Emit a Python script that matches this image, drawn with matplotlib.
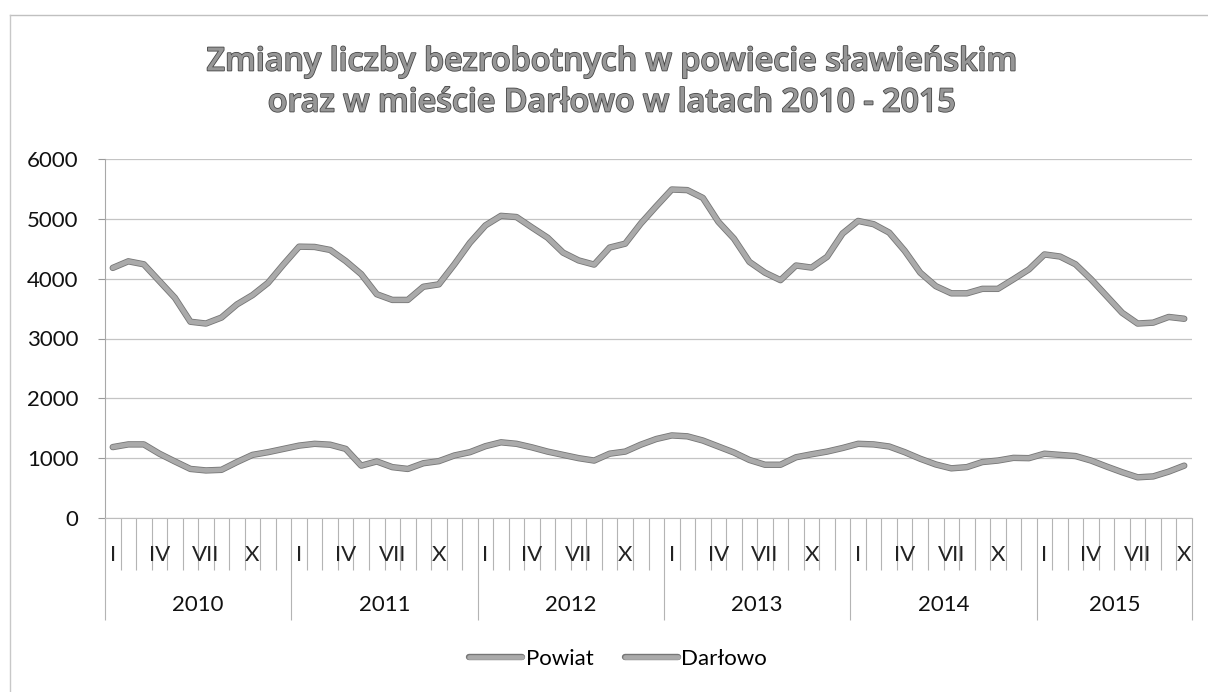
import matplotlib
matplotlib.use("Agg")
import matplotlib.pyplot as plt
import matplotlib.patheffects as pe
from matplotlib.lines import Line2D

plt.rcParams['font.family'] = ['Lato', 'DejaVu Sans']

# Monthly counts of registered unemployed, Jan 2010 - Oct 2015
years = ["2010", "2011", "2012", "2013", "2014", "2015"]
months_per_year = [12, 12, 12, 12, 12, 10]
month_names = ["I", "II", "III", "IV", "V", "VI", "VII", "VIII", "IX", "X", "XI", "XII"]
shown_months = ["I", "IV", "VII", "X"]

powiat = [
    4180, 4290, 4240, 3960, 3680, 3280, 3250, 3350, 3570, 3725, 3930, 4240,
    4535, 4530, 4480, 4295, 4075, 3740, 3645, 3645, 3865, 3905, 4240, 4600,
    4890, 5050, 5030, 4855, 4685, 4435, 4305, 4235, 4520, 4585, 4920, 5210,
    5490, 5480, 5350, 4950, 4670, 4280, 4100, 3975, 4220, 4185, 4365, 4755,
    4965, 4910, 4770, 4465, 4100, 3875, 3755, 3755, 3830, 3830, 3990, 4155,
    4405, 4370, 4240, 3990, 3710, 3430, 3250, 3265, 3360, 3330,
]
darlowo = [
    1185, 1230, 1230, 1075, 945, 820, 795, 805, 935, 1055, 1100, 1155,
    1210, 1240, 1225, 1155, 875, 945, 850, 820, 915, 950, 1045, 1100,
    1200, 1265, 1240, 1180, 1110, 1055, 1000, 960, 1075, 1110, 1225, 1320,
    1380, 1365, 1295, 1195, 1095, 970, 890, 890, 1015, 1065, 1110, 1170,
    1240, 1230, 1195, 1100, 990, 895, 830, 850, 935, 960, 1005, 1000,
    1075, 1055, 1035, 960, 860, 765, 680, 695, 775, 875,
]
series_names = ["Powiat", "Darłowo"]

W, H = 1208, 692
fig = plt.figure(figsize=(W / 100, H / 100), dpi=100)
fig.patch.set_facecolor("white")

ax = fig.add_axes([105 / W, 1 - 518 / H, (1192 - 105) / W, (518 - 159) / H])

n = len(powiat)
x = list(range(n))

line_fx = [pe.Stroke(linewidth=4.6, foreground="#767676"), pe.Normal()]
for vals, name in zip([powiat, darlowo], series_names):
    ax.plot(x, vals, color="#aaaaaa", lw=3.4, solid_capstyle="round",
            solid_joinstyle="round", path_effects=line_fx, label=name, zorder=3)

ax.set_xlim(-0.5, n - 0.5)
ax.set_ylim(0, 6000)
ax.set_yticks(range(0, 6001, 1000))
ax.yaxis.grid(True, color="#c4c4c4", lw=0.9)
ax.set_axisbelow(True)
ax.tick_params(axis="y", length=5, width=0.8, color="#9a9a9a", pad=14,
               labelsize=16, labelcolor="#111111")

for s in ["top", "right"]:
    ax.spines[s].set_visible(False)
ax.spines["left"].set_color("#a8a8a8")
ax.spines["bottom"].set_color("#bdbdbd")

# Category axis: month separators (minor) and year separators (major)
year_edges = [-0.5]
for m in months_per_year:
    year_edges.append(year_edges[-1] + m)
ax.set_xticks(year_edges)
ax.set_xticklabels([""] * len(year_edges))
ax.set_xticks([k - 0.5 for k in range(n + 1)], minor=True)
ax.tick_params(axis="x", which="major", length=73.5, width=0.8, color="#b4b4b4", direction="out")
ax.tick_params(axis="x", which="minor", length=37.5, width=0.8, color="#b4b4b4", direction="out")

tx = ax.get_xaxis_transform()
ax_h = 518 - 159
y_month = -(555 - 518) / ax_h
y_year = -(605 - 518) / ax_h
pos = 0
for yr, m in zip(years, months_per_year):
    for k in range(m):
        if month_names[k] in shown_months:
            ax.text(pos + k, y_month, month_names[k], transform=tx, ha="center",
                    va="center", fontsize=16, color="#222222")
    ax.text(pos + (m - 1) / 2, y_year, yr, transform=tx, ha="center",
            va="center", fontsize=16, color="#111111")
    pos += m

# Title
title_fx = [pe.withStroke(linewidth=1.2, foreground="#474747")]
title_font = ["Open Sans", "DejaVu Sans"]
fig.text(612 / W, 1 - 62 / H, "Zmiany liczby bezrobotnych w powiecie sławieńskim",
         ha="center", va="center", fontsize=23.2, fontweight="semibold", family=title_font,
         color="#969696", path_effects=title_fx)
fig.text(612 / W, 1 - 103 / H, "oraz w mieście Darłowo w latach 2010 - 2015",
         ha="center", va="center", fontsize=23.2, fontweight="semibold", family=title_font,
         color="#969696", path_effects=title_fx)

# Legend
leg = fig.legend(loc="center", bbox_to_anchor=(618 / W, 1 - 659 / H), ncol=2,
                 frameon=False, fontsize=16, handlelength=2.4,
                 handletextpad=0.15, columnspacing=1.4)

# Chart area border
fig.add_artist(Line2D([10 / W, 1.0], [1 - 15 / H, 1 - 15 / H], color="#c0c0c0", lw=1))
fig.add_artist(Line2D([10 / W, 10 / W], [1 - 15 / H, 0.0], color="#c8c8c8", lw=1))

fig.savefig("out.png", dpi=100, facecolor="white")
